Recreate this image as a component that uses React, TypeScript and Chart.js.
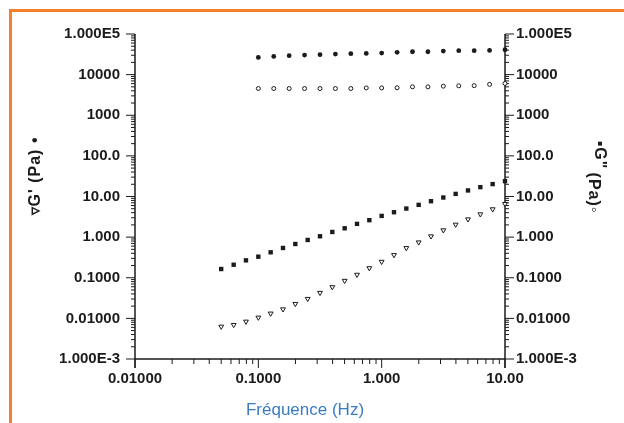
import React, { useEffect, useRef } from 'react';
import { Chart, registerables } from 'chart.js';

Chart.register(...registerables);

// Frequencies (Hz)
const freqHigh = [0.1, 0.1334, 0.1778, 0.2371, 0.3162, 0.4217, 0.5623, 0.7499, 1, 1.334, 1.778, 2.371, 3.162, 4.217, 5.623, 7.499, 10];
const freqLow = [0.05, 0.0631, 0.0794, 0.1, 0.1259, 0.1585, 0.1995, 0.2512, 0.3162, 0.3981, 0.5012, 0.631, 0.7943, 1, 1.259, 1.585, 1.995, 2.512, 3.162, 3.981, 5.012, 6.31, 7.943, 10];

// G' (filled circles) and G'' (open circles)
const gPrimeA = [26500, 28100, 29200, 30300, 30900, 32100, 32700, 33300, 34000, 35300, 36600, 36600, 38000, 38800, 38800, 39500, 41000];
const gSecondA = [4550, 4550, 4550, 4550, 4550, 4550, 4550, 4700, 4700, 4750, 5000, 5000, 5200, 5300, 5350, 5750, 6050];

// G'' (filled squares) and G' (open triangles)
const gSecondB = [0.164, 0.209, 0.268, 0.33, 0.423, 0.541, 0.678, 0.851, 1.05, 1.34, 1.65, 2.12, 2.61, 3.33, 4.1, 5.05, 6.23, 7.67, 9.44, 11.6, 14.1, 17.0, 20.2, 23.9];
const gPrimeB = [0.00628, 0.00692, 0.00836, 0.0105, 0.0132, 0.0168, 0.0228, 0.0303, 0.0426, 0.0589, 0.0844, 0.119, 0.173, 0.248, 0.363, 0.541, 0.745, 1.05, 1.48, 2.04, 2.75, 3.66, 4.87, 6.59];

const xTickValues = [0.01, 0.1, 1, 10];
const xTickLabels = ['0.01000', '0.1000', '1.000', '10.00'];
const yTickValues = [1e-3, 1e-2, 1e-1, 1, 10, 100, 1000, 10000, 100000];
const yTickLabels = ['1.000E-3', '0.01000', '0.1000', '1.000', '10.00', '100.0', '1000', '10000', '1.000E5'];

const xTitle = 'Fréquence (Hz)';
const leftTitle = "\u25BFG' (Pa) \u2022";
const rightTitleA = '\u25AAG"';
const rightTitleB = '(Pa)\u25E6';

const INK = '#1c1a1b';
const FONT = "'Liberation Sans', Arial, Helvetica, sans-serif";

const axesPlugin = {
  id: 'customAxes',
  beforeDatasetsDraw(chart: any) {
    const { ctx, chartArea: a, scales } = chart;
    const xs = scales.x;
    const ys = scales.y;
    ctx.save();
    ctx.strokeStyle = INK;
    const seg = (x1: number, y1: number, x2: number, y2: number) => {
      ctx.beginPath();
      ctx.moveTo(x1, y1);
      ctx.lineTo(x2, y2);
      ctx.stroke();
    };
    ctx.lineWidth = 1.5;
    seg(a.left, a.top, a.left, a.bottom + 9);
    seg(a.right, a.top, a.right, a.bottom + 9);
    seg(a.left, a.bottom, a.right, a.bottom);
    ctx.lineWidth = 1;
    // y ticks
    for (let d = -3; d <= 5; d++) {
      for (let k = 1; k <= 9; k++) {
        const v = k * Math.pow(10, d);
        if (v > 100001) break;
        const py = ys.getPixelForValue(v);
        const len = k === 1 ? 9 : 4;
        seg(a.left - len, py, a.left, py);
        seg(a.right, py, a.right + len, py);
      }
    }
    // x ticks
    for (let d = -2; d <= 1; d++) {
      for (let k = 1; k <= 9; k++) {
        const v = k * Math.pow(10, d);
        if (v > 10.001) break;
        const px = xs.getPixelForValue(v);
        const len = k === 1 ? 9 : 5;
        seg(px, a.bottom, px, a.bottom + len);
      }
    }
    ctx.restore();
  },
  afterDraw(chart: any) {
    const { ctx } = chart;
    ctx.save();
    ctx.textAlign = 'center';
    ctx.textBaseline = 'middle';
    ctx.fillStyle = '#3a7cc3';
    ctx.font = `17px ${FONT}`;
    ctx.fillText(xTitle, 305, 410);

    ctx.fillStyle = INK;
    ctx.font = `bold 16px ${FONT}`;
    try { (ctx as any).letterSpacing = '1px'; } catch (e) {}
    ctx.save();
    ctx.translate(36, 176);
    ctx.rotate(-Math.PI / 2);
    ctx.fillText(leftTitle, 0, 0);
    ctx.restore();

    ctx.save();
    ctx.translate(599, 155);
    ctx.rotate(Math.PI / 2);
    ctx.fillText(rightTitleA, 0, 0);
    ctx.restore();
    ctx.save();
    ctx.translate(593, 193);
    ctx.rotate(Math.PI / 2);
    ctx.fillText(rightTitleB, 0, 0);
    ctx.restore();
    ctx.restore();
  },
};

function makeYScale(position: 'left' | 'right', width: number, padding: number) {
  return {
    type: 'logarithmic',
    position,
    min: 1e-3,
    max: 1e5,
    afterBuildTicks: (scale: any) => {
      scale.ticks = yTickValues.map((v) => ({ value: v }));
    },
    afterFit: (scale: any) => {
      scale.width = width;
    },
    ticks: {
      autoSkip: false,
      padding,
      color: INK,
      font: { family: FONT, size: 15, weight: 'bold' },
      callback: (_v: any, i: number) => yTickLabels[i],
    },
    grid: { display: true, drawOnChartArea: false, drawTicks: true, tickLength: 9, tickColor: 'rgba(0,0,0,0)' },
    border: { display: false },
    title: { display: false },
  };
}

export default function App() {
  const ref = useRef<HTMLCanvasElement>(null);
  useEffect(() => {
    if (!ref.current) return;
    const pt = (xs: number[], ys: number[]) => xs.map((x, i) => ({ x, y: ys[i] }));
    const chart = new Chart(ref.current, {
      type: 'scatter',
      data: {
        datasets: [
          { label: "G' A", data: pt(freqHigh, gPrimeA), pointStyle: 'circle', pointRadius: 2.4, backgroundColor: INK, borderColor: INK, borderWidth: 0, clip: false } as any,
          { label: 'G" A', data: pt(freqHigh, gSecondA), pointStyle: 'circle', pointRadius: 2, backgroundColor: '#fff', borderColor: INK, borderWidth: 1, clip: false } as any,
          { label: 'G" B', data: pt(freqLow, gSecondB), pointStyle: 'rect', pointRadius: 3.1, backgroundColor: INK, borderColor: INK, borderWidth: 0, clip: false } as any,
          { label: "G' B", data: pt(freqLow, gPrimeB), pointStyle: 'triangle', pointRotation: 180, pointRadius: 2.8, backgroundColor: '#fff', borderColor: INK, borderWidth: 1, clip: false } as any,
        ],
      },
      options: {
        responsive: false,
        animation: false,
        devicePixelRatio: 1,
        layout: { padding: { top: 34, left: 0, right: 0, bottom: 0 } },
        plugins: { legend: { display: false }, tooltip: { enabled: false } },
        scales: {
          x: {
            type: 'logarithmic',
            position: 'bottom',
            min: 0.01,
            max: 10,
            afterBuildTicks: (scale: any) => {
              scale.ticks = xTickValues.map((v) => ({ value: v }));
            },
            afterFit: (scale: any) => {
              scale.height = 64;
            },
            ticks: {
              autoSkip: false,
              maxRotation: 0,
              padding: 2,
              color: INK,
              font: { family: FONT, size: 15, weight: 'bold' },
              callback: (_v: any, i: number) => xTickLabels[i],
            },
            grid: { display: true, drawOnChartArea: false, drawTicks: true, tickLength: 9, tickColor: 'rgba(0,0,0,0)' },
            border: { display: false },
          },
          y: makeYScale('left', 135, 6),
          y2: makeYScale('right', 119, 2),
        } as any,
      } as any,
      plugins: [axesPlugin],
    });
    return () => chart.destroy();
  }, []);

  return (
    <>
      <div
        style={{
          position: 'fixed',
          left: 9,
          top: 9,
          width: 615,
          height: 414,
          borderTop: '3px solid #f4812a',
          borderLeft: '3px solid #f4812a',
          boxSizing: 'border-box',
        }}
      />
      <canvas
        ref={ref}
        width={624}
        height={423}
        style={{ position: 'fixed', left: 0, top: 0, width: 624, height: 423 }}
      />
    </>
  );
}
